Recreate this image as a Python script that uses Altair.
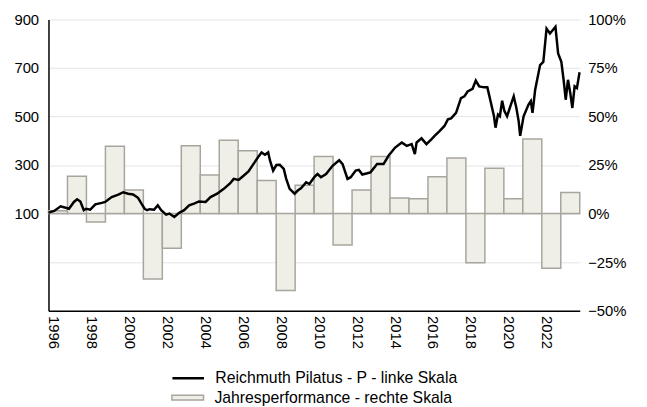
import altair as alt
import pandas as pd

# Annual performance bars (right scale)
bar_years = list(range(1996, 2024))
bar_perf = [0.015, 0.192, -0.043, 0.347, 0.121, -0.337, -0.179, 0.349, 0.199, 0.378,
            0.323, 0.170, -0.396, 0.146, 0.294, -0.162, 0.122, 0.294, 0.080, 0.077,
            0.190, 0.286, -0.253, 0.233, 0.077, 0.384, -0.281, 0.109]

# Index line (left scale)
line_t = [1996.00, 1996.30, 1996.64, 1996.90, 1997.08, 1997.34, 1997.51, 1997.68, 1997.86, 1997.98,
          1998.20, 1998.47, 1998.81, 1998.99, 1999.33, 1999.68, 1999.94, 2000.20, 2000.46, 2000.72,
          2000.90, 2001.07, 2001.20, 2001.33, 2001.56, 2001.76, 2001.94, 2002.20, 2002.37, 2002.63,
          2002.89, 2003.15, 2003.41, 2003.67, 2003.93, 2004.28, 2004.54, 2004.89, 2005.24, 2005.58,
          2005.76, 2006.02, 2006.28, 2006.54, 2006.80, 2007.06, 2007.23, 2007.41, 2007.58, 2007.67,
          2007.84, 2008.01, 2008.19, 2008.40, 2008.53, 2008.71, 2008.97, 2009.14, 2009.32, 2009.58,
          2009.75, 2010.01, 2010.18, 2010.36, 2010.63, 2010.97, 2011.32, 2011.50, 2011.76, 2011.93,
          2012.19, 2012.36, 2012.54, 2012.80, 2012.97, 2013.32, 2013.66, 2013.92, 2014.27, 2014.62,
          2014.88, 2015.14, 2015.31, 2015.40, 2015.66, 2015.92, 2016.18, 2016.35, 2016.61, 2016.87,
          2017.05, 2017.22, 2017.48, 2017.74, 2017.92, 2018.09, 2018.35, 2018.52, 2018.70, 2018.96,
          2019.13, 2019.30, 2019.48, 2019.56, 2019.69, 2019.79, 2019.91, 2020.03, 2020.17, 2020.34,
          2020.52, 2020.66, 2020.78, 2020.86, 2021.04, 2021.30, 2021.42, 2021.51, 2021.65, 2021.91,
          2022.08, 2022.25, 2022.43, 2022.57, 2022.72, 2022.86, 2023.03, 2023.16, 2023.26, 2023.38,
          2023.50, 2023.61, 2023.73, 2023.85, 2023.99]
line_v = [104, 111, 130, 124, 120, 148, 159, 150, 114, 120,
          116, 138, 144, 148, 168, 178, 188, 182, 179, 165,
          141, 120, 114, 118, 116, 134, 114, 96, 100, 86,
          103, 114, 134, 141, 150, 148, 168, 182, 202, 225,
          243, 239, 256, 274, 304, 334, 352, 342, 352, 320,
          277, 300, 301, 284, 243, 202, 182, 195, 205, 229,
          222, 250, 263, 250, 263, 297, 320, 304, 243, 250,
          277, 280, 261, 266, 270, 304, 304, 338, 372, 393,
          379, 386, 345, 393, 410, 386, 406, 420, 440, 461,
          488, 492, 515, 576, 583, 603, 614, 648, 624, 620,
          620, 563, 501, 454, 508, 501, 565, 522, 501, 542,
          583, 535, 481, 420, 501, 549, 563, 515, 610, 712,
          725, 862, 842, 855, 869, 760, 725, 644, 569, 651,
          597, 535, 624, 617, 682]

line_name = "Reichmuth Pilatus - P - linke Skala"
bar_name = "Jahresperformance - rechte Skala"

bars_df = pd.DataFrame({
    "start": bar_years,
    "end": [y + 1 for y in bar_years],
    "perf": bar_perf,
    "series": [bar_name] * len(bar_years),
})
line_df = pd.DataFrame({
    "t": line_t,
    "v": line_v,
    "series": [line_name] * len(line_t),
})

x_scale = alt.Scale(domain=[1996, 2024], nice=False, zero=False)
x_axis = alt.Axis(values=list(range(1996, 2023, 2)), format="d", labelAngle=90,
                  labelAlign="left", labelBaseline="alphabetic", labelPadding=5,
                  ticks=False, grid=False, domainColor="black", domainWidth=1.5,
                  labelFontSize=15, labelColor="black", title=None)

bars = alt.Chart(bars_df).mark_bar(stroke="#a8a59e", strokeWidth=1.5).encode(
    x=alt.X("start:Q", scale=x_scale, axis=x_axis),
    x2="end:Q",
    y=alt.Y("perf:Q",
            scale=alt.Scale(domain=[-0.5, 1.0], nice=False, zero=False),
            axis=alt.Axis(orient="right", values=[-0.5, -0.25, 0, 0.25, 0.5, 0.75, 1.0],
                          format=".0%", domain=False, ticks=False, grid=True,
                          gridColor="#e4e4e4", gridWidth=1, labelPadding=8,
                          labelFontSize=15, labelColor="black", title=None)),
    y2=alt.datum(0),
    fill=alt.Fill("series:N",
                  scale=alt.Scale(domain=[bar_name], range=["#efefe7"]),
                  legend=alt.Legend(orient="none", legendX=124, legendY=366, title=None,
                                    symbolType="M-1,-0.15H1V0.15H-1Z", symbolSize=1024,
                                    symbolStrokeColor="#a8a59e", symbolStrokeWidth=1.5,
                                    labelFontSize=16, labelColor="black", labelOffset=10,
                                    labelLimit=400)),
)

line = alt.Chart(line_df).mark_line(color="black", strokeWidth=2.5).encode(
    x=alt.X("t:Q", scale=x_scale),
    y=alt.Y("v:Q",
            scale=alt.Scale(domain=[-300, 900], nice=False, zero=False),
            axis=alt.Axis(orient="left", values=[100, 300, 500, 700, 900],
                          domain=True, domainColor="black", domainWidth=1.5,
                          ticks=False, grid=False, labelPadding=10,
                          labelFontSize=15, labelColor="black", title=None)),
    stroke=alt.Stroke("series:N",
                      scale=alt.Scale(domain=[line_name], range=["black"]),
                      legend=alt.Legend(orient="none", legendX=124, legendY=346, title=None,
                                        symbolType="stroke", symbolSize=1024,
                                        symbolStrokeWidth=2.5,
                                        labelFontSize=16, labelColor="black", labelOffset=10,
                                        labelLimit=400)),
)

chart = alt.layer(bars, line).resolve_scale(
    y="independent", fill="independent", stroke="independent"
).properties(
    width=538, height=295,
    autosize=alt.AutoSizeParams(type="none"),
    padding={"left": 41, "top": 9, "right": 60, "bottom": 95},
).configure(font="Liberation Sans").configure_view(strokeWidth=0)

chart.save("out.html", embed_options={"renderer": "svg", "actions": False})
